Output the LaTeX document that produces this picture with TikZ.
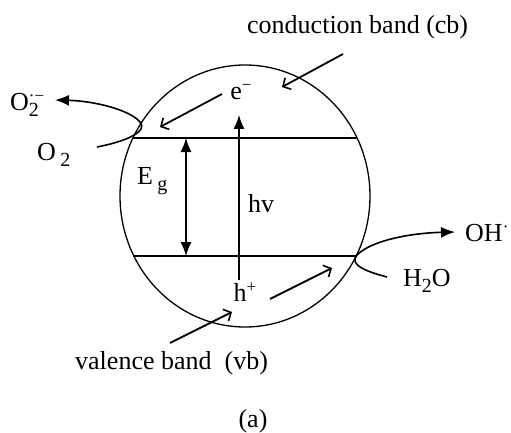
\documentclass[tikz,border=0pt]{standalone}
\usepackage{fontspec}
\setmainfont{Liberation Serif}
\usetikzlibrary{arrows.meta}

\newcommand{\lowtxt}[1]{\raisebox{-0.45ex}{\fontsize{20}{20}\selectfont #1}}
\newcommand{\hightxt}[1]{\raisebox{0.75ex}{\fontsize{17}{17}\selectfont #1}}

\begin{document}
\begin{tikzpicture}[
	    x=1pt, y=-1pt,
	    every node/.style={font=\fontsize{26}{30}\selectfont, inner sep=0pt},
	    band/.style={line width=1.3pt},
	    solid arrow/.style={-{Latex[length=14pt,width=11pt]}, line width=1.4pt},
	    gap arrow/.style={{Latex[length=14pt,width=11pt]}-{Latex[length=14pt,width=11pt]}, line width=1.4pt},
	    barb arrow/.style={-{Straight Barb[length=6pt,width=13pt,line width=1.6pt]}, line width=1.8pt},
	    hook/.style={-{Latex[length=14pt,width=11pt]}, line width=1.6pt}
	]
		\useasboundingbox (0,0) rectangle (511,433);

		\draw[band] (245,196) ellipse [x radius=125, y radius=131];

		\coordinate (cbl) at (133,138);
		\coordinate (cbr) at (357,138);
		\coordinate (vbl) at (133,256);
		\coordinate (vbr) at (357,256);

		\draw[band] (cbl) -- (cbr);
		\draw[band] (vbl) -- (vbr);

		\coordinate (egtop) at (186,138);
		\coordinate (egbot) at (186,256);
		\coordinate (hvbot) at (239,280);
		\coordinate (hvtop) at (239,115);

		\draw[gap arrow] (egtop) -- (egbot);
		\draw[solid arrow] (hvbot) -- (hvtop);

		\node[anchor=west] (eg) at (137,181) {E\,\lowtxt{g}};
		\node (hv) at (261,204) {hv};
		\node (elec) at (241,92) {e\hightxt{−}};
		\node (hole) at (245,292) {h\hightxt{+}};

		\coordinate (etail) at (222,94);
		\coordinate (etip) at (160,127);
		\coordinate (htail) at (270,299);
		\coordinate (htip) at (332,268);

		\draw[barb arrow] (etail) -- (etip);
		\draw[barb arrow] (htail) -- (htip);

		\node[anchor=west] (cb) at (247,27) {conduction band (cb)};
		\node[anchor=west] (vb) at (75,363) {valence band\ \ (vb)};
		\node (cap) at (253,421) {(a)};

		\coordinate (cbtail) at (343,54);
		\coordinate (cbtip) at (282,87);
		\coordinate (vbtail) at (170,343);
		\coordinate (vbtip) at (232,312);

		\draw[barb arrow] (cbtail) -- (cbtip);
		\draw[barb arrow] (vbtail) -- (vbtip);

		\node[anchor=west] (oxy) at (37,155) {O\,\lowtxt{2}};
		\node[anchor=west] (sup) at (10,105) {O\rlap{\lowtxt{2}}\hightxt{·−}};
		\node[anchor=west] (water) at (403,281) {H\lowtxt{2}O};
		\node[anchor=west] (hydr) at (465,233) {OH\hightxt{·}};

		\coordinate (otail) at (97,147);
		\coordinate (otip) at (55,100);
		\coordinate (wtail) at (387,277);
		\coordinate (wtip) at (455,232);

		\draw[hook] (otail) .. controls (128,141) and (148,131) .. (140,122)
			.. controls (130,110) and (95,101) .. (otip);
		\draw[hook] (wtail) .. controls (368,272) and (348,265) .. (357,255)
			.. controls (372,240) and (412,233) .. (wtip);
	\end{tikzpicture}
\end{document}
